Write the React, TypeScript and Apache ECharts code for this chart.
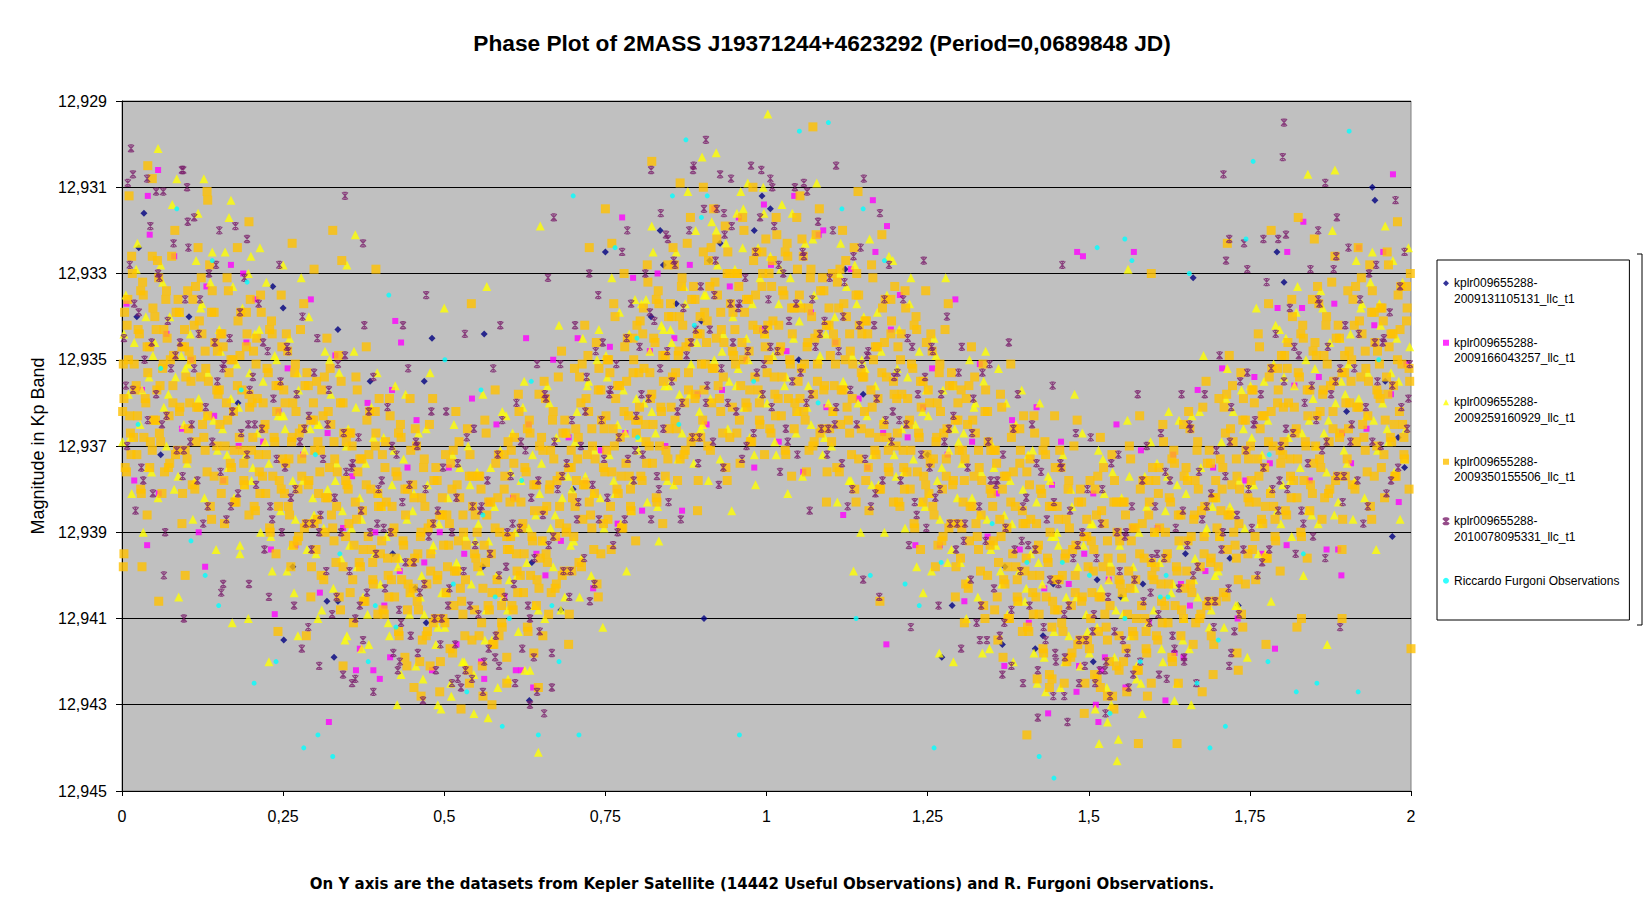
import React, { useEffect, useRef } from 'react';
import * as echarts from 'echarts';

// Point lists are flat pairs: phase in thousandths, magnitude in ten-thousandths above 12.9
// e.g. 352 -> 12,9352

const seriesNames = [
  'kplr009655288-2009131105131_llc_t1',
  'kplr009655288-2009166043257_llc_t1',
  'kplr009655288-2009259160929_llc_t1',
  'kplr009655288-2009350155506_llc_t1',
  'kplr009655288-2010078095331_llc_t1',
  'Riccardo Furgoni Observations',
];

const navyPts = [
  34,316, 26,324, 234,333, 250,338, 104,340, 23,340, 835,320, 750,325, 928,323, 993,312, 1006,315, 981,320,
  912,327, 1122,329, 840,328, 1792,325, 1662,331, 1803,332, 860,337, 335,343, 481,345, 562,344, 821,340, 385,355,
  469,355, 899,341, 265,398, 318,406, 335,406, 251,415, 329,419, 472,411, 632,429, 681,408, 636,397, 455,403,
  1272,419, 1288,407, 1366,416, 1429,414, 1417,417, 1507,420, 1513,401, 1732,407, 1719,396, 1370,398, 1445,402,
  1584,402, 60,372, 180,360, 420,395, 560,398, 700,380, 1050,350, 1150,358, 1250,372, 1550,405, 1650,395,
  1900,362, 1960,355, 1980,368, 1940,310, 1944,313, 903,410, 1971,391, 1990,375,
];

const magentaPts = [
  7,337, 19,378, 31,357, 43,321, 57,381, 69,344, 81,326, 93,366, 107,350, 119,390, 131,333, 143,363,
  157,378, 169,328, 181,370, 193,346, 207,336, 219,369, 231,394, 243,362, 257,352, 269,393, 281,372, 293,336,
  307,404, 319,367, 331,349, 343,389, 357,377, 369,417, 381,360, 393,390, 407,407, 419,357, 431,399, 443,375,
  457,364, 469,397, 481,422, 493,390, 507,375, 519,416, 531,395, 543,359, 557,420, 569,383, 581,365, 593,405,
  607,382, 619,422, 631,365, 643,395, 657,400, 669,350, 681,392, 693,368, 707,345, 719,378, 731,403, 743,371,
  757,347, 769,388, 781,367, 793,331, 807,385, 819,348, 831,330, 843,370, 857,345, 869,385, 881,328, 893,358,
  907,365, 919,315, 931,357, 943,333, 957,317, 969,350, 981,375, 993,343, 1007,328, 1019,369, 1031,348, 1043,312,
  1057,376, 1069,339, 1081,321, 1093,361, 1107,346, 1119,386, 1131,329, 1143,359, 1157,375, 1169,325, 1181,367, 1193,343,
  1207,335, 1219,368, 1231,393, 1243,361, 1257,352, 1269,393, 1281,372, 1293,336, 1307,406, 1319,369, 1331,351, 1343,391,
  1357,381, 1369,421, 1381,364, 1393,394, 1407,411, 1419,361, 1431,403, 1443,379, 1457,369, 1469,402, 1481,427, 1493,395,
  1507,381, 1519,422, 1531,401, 1543,365, 1557,426, 1569,389, 1581,371, 1593,411, 1607,389, 1619,429, 1631,372, 1643,402,
  1657,407, 1669,357, 1681,399, 1693,375, 1707,352, 1719,385, 1731,410, 1743,378, 1757,354, 1769,395, 1781,374, 1793,338,
  1807,393, 1819,356, 1831,338, 1843,378, 1857,354, 1869,394, 1881,337, 1893,367, 1907,374, 1919,324, 1931,366, 1943,342,
  1957,325, 1969,358, 1981,383, 1993,351,
  56,306, 40,312, 188,330, 424,341, 433,346, 627,345, 776,317, 996,314, 1165,313, 1088,320, 1187,319, 1482,325,
  1491,326, 1570,325, 1833,318, 39,393, 129,398, 237,409, 321,434, 363,422, 390,422, 400,424, 416,419, 562,424,
  611,422, 638,426, 1186,416, 1437,432, 1515,434, 1511,430, 1485,421, 1525,419, 1789,417, 1633,418, 1647,419, 1887,394,
  1892,400, 1972,307, 1808,325,
];

const yellowPts = [
  1,369, 6,335, 10,358, 15,381, 19,346, 24,323, 28,365, 33,390, 37,340, 42,354, 46,376,
  51,346, 56,382, 60,328, 65,361, 69,370, 74,340, 78,314, 83,354, 87,377, 92,349, 96,365,
  101,374, 106,344, 110,387, 115,327, 119,359, 124,337, 128,382, 133,353, 137,332, 142,364, 146,394,
  151,343, 156,366, 160,325, 165,375, 169,359, 174,382, 178,351, 183,393, 187,338, 192,372, 196,330,
  201,378, 206,344, 210,367, 215,390, 219,355, 224,332, 228,374, 233,399, 237,349, 242,363, 246,385,
  251,363, 256,399, 260,345, 265,378, 269,387, 274,357, 278,331, 283,371, 287,394, 292,366, 296,382,
  301,395, 306,365, 310,408, 315,348, 319,380, 324,358, 328,403, 333,374, 337,353, 342,385, 346,415,
  351,366, 356,389, 360,348, 365,398, 369,382, 374,405, 378,374, 383,416, 387,361, 392,395, 396,353,
  401,402, 406,368, 410,391, 415,414, 419,379, 424,356, 428,398, 433,423, 437,373, 442,387, 446,409,
  451,385, 456,421, 460,367, 465,400, 469,409, 474,379, 478,353, 483,393, 487,416, 492,388, 496,404,
  501,412, 506,382, 510,425, 515,365, 519,397, 524,375, 528,420, 533,391, 537,370, 542,402, 546,432,
  551,376, 556,399, 560,358, 565,408, 569,392, 574,415, 578,384, 583,426, 587,371, 592,405, 596,363,
  601,401, 606,367, 610,390, 615,413, 619,378, 624,355, 628,397, 633,422, 637,372, 642,386, 646,408,
  651,374, 656,410, 660,356, 665,389, 669,398, 674,368, 678,342, 683,382, 687,405, 692,377, 696,393,
  701,392, 706,362, 710,405, 715,345, 719,377, 724,355, 728,400, 733,371, 737,350, 742,382, 746,412,
  751,349, 756,372, 760,331, 765,381, 769,365, 774,388, 778,357, 783,399, 787,344, 792,378, 796,336,
  801,371, 806,337, 810,360, 815,383, 819,348, 824,325, 828,367, 833,392, 837,342, 842,356, 846,378,
  851,343, 856,379, 860,325, 865,358, 869,367, 874,337, 878,311, 883,351, 887,374, 892,346, 896,362,
  901,365, 906,335, 910,378, 915,318, 919,350, 924,328, 928,373, 933,344, 937,323, 942,355, 946,385,
  951,329, 956,352, 960,311, 965,361, 969,345, 974,368, 978,337, 983,379, 987,324, 992,358, 996,316,
  1001,360, 1006,326, 1010,349, 1015,372, 1019,337, 1024,314, 1028,356, 1033,381, 1037,331, 1042,345, 1046,367,
  1051,341, 1056,377, 1060,323, 1065,356, 1069,365, 1074,335, 1078,309, 1083,349, 1087,372, 1092,344, 1096,360,
  1101,370, 1106,340, 1110,383, 1115,323, 1119,355, 1124,333, 1128,378, 1133,349, 1137,328, 1142,360, 1146,390,
  1151,340, 1156,363, 1160,322, 1165,372, 1169,356, 1174,379, 1178,348, 1183,390, 1187,335, 1192,369, 1196,327,
  1201,377, 1206,343, 1210,366, 1215,389, 1219,354, 1224,331, 1228,373, 1233,398, 1237,348, 1242,362, 1246,384,
  1251,363, 1256,399, 1260,345, 1265,378, 1269,387, 1274,357, 1278,331, 1283,371, 1287,394, 1292,366, 1296,382,
  1301,397, 1306,367, 1310,410, 1315,350, 1319,382, 1324,360, 1328,405, 1333,376, 1337,355, 1342,387, 1346,417,
  1351,370, 1356,393, 1360,352, 1365,402, 1369,386, 1374,409, 1378,378, 1383,420, 1387,365, 1392,399, 1396,357,
  1401,406, 1406,372, 1410,395, 1415,418, 1419,383, 1424,360, 1428,402, 1433,427, 1437,377, 1442,391, 1446,413,
  1451,390, 1456,426, 1460,372, 1465,405, 1469,414, 1474,384, 1478,358, 1483,398, 1487,421, 1492,393, 1496,409,
  1501,418, 1506,388, 1510,431, 1515,371, 1519,403, 1524,381, 1528,426, 1533,397, 1537,376, 1542,408, 1546,438,
  1551,382, 1556,405, 1560,364, 1565,414, 1569,398, 1574,421, 1578,390, 1583,432, 1587,377, 1592,411, 1596,369,
  1601,408, 1606,374, 1610,397, 1615,420, 1619,385, 1624,362, 1628,404, 1633,429, 1637,379, 1642,393, 1646,415,
  1651,381, 1656,417, 1660,363, 1665,396, 1669,405, 1674,375, 1678,349, 1683,389, 1687,412, 1692,384, 1696,400,
  1701,399, 1706,369, 1710,412, 1715,352, 1719,384, 1724,362, 1728,407, 1733,378, 1737,357, 1742,389, 1746,419,
  1751,356, 1756,379, 1760,338, 1765,388, 1769,372, 1774,395, 1778,364, 1783,406, 1787,351, 1792,385, 1796,343,
  1801,379, 1806,345, 1810,368, 1815,391, 1819,356, 1824,333, 1828,375, 1833,400, 1837,350, 1842,364, 1846,386,
  1851,352, 1856,388, 1860,334, 1865,367, 1869,376, 1874,346, 1878,320, 1883,360, 1887,383, 1892,355, 1896,371,
  1901,374, 1906,344, 1910,387, 1915,327, 1919,359, 1924,337, 1928,382, 1933,353, 1937,332, 1942,364, 1946,394,
  1951,337, 1956,360, 1960,319, 1965,369, 1969,353, 1974,376, 1978,345, 1983,387, 1987,332, 1992,366, 1996,324,
  56,301, 85,308, 127,308, 169,313, 166,317, 118,316, 200,326, 250,328, 649,319, 922,302, 900,303, 822,319,
  362,321, 566,333, 349,328, 500,338, 214,324, 1002,293, 971,309, 995,310, 964,315, 954,316, 1840,307, 1882,306,
  1561,329, 88,405, 171,411, 196,410, 228,420, 273,414, 427,430, 490,430, 495,431, 568,433, 646,441, 511,428,
  546,423, 467,424, 599,424, 625,422, 183,395, 267,404, 349,414, 372,417, 304,410, 1268,418, 1290,420, 1335,418,
  1535,430, 1529,434, 1516,439, 1544,443, 1659,430, 1637,425, 1870,416, 1574,424, 1420,425, 1135,399, 1243,404,
];

// more triangles from the dense core of the band
const yellowCorePts = [
  3,344, 13,368, 22,329, 31,357, 40,375, 48,349, 53,364, 63,332, 72,358, 81,380, 90,339, 98,352,
  103,351, 113,378, 122,338, 131,363, 140,325, 148,371, 153,348, 163,372, 172,333, 181,361, 190,379, 198,353,
  203,375, 213,343, 222,369, 231,391, 240,350, 248,363, 253,366, 263,393, 272,353, 281,378, 290,340, 298,386,
  303,365, 313,389, 322,350, 331,378, 340,396, 348,370, 353,393, 363,361, 372,387, 381,409, 390,368, 398,381,
  403,384, 413,411, 422,371, 431,396, 440,358, 448,404, 453,381, 463,405, 472,366, 481,394, 490,412, 498,386,
  503,404, 513,372, 522,398, 531,420, 540,379, 548,392, 553,388, 563,415, 572,375, 581,400, 590,362, 598,408,
  603,376, 613,400, 622,361, 631,389, 640,407, 648,381, 653,392, 663,360, 672,386, 681,408, 690,367, 698,380,
  703,369, 713,396, 722,356, 731,381, 740,343, 748,389, 753,354, 763,378, 772,339, 781,367, 790,385, 798,359,
  803,368, 813,336, 822,362, 831,384, 840,343, 848,356, 853,346, 863,373, 872,333, 881,358, 890,320, 898,366,
  903,335, 913,359, 922,320, 931,348, 940,366, 948,340, 953,356, 963,324, 972,350, 981,372, 990,331, 998,344,
  1003,342, 1013,369, 1022,329, 1031,354, 1040,316, 1048,362, 1053,337, 1063,361, 1072,322, 1081,350, 1090,368, 1098,342,
  1103,362, 1113,330, 1122,356, 1131,378, 1140,337, 1148,350, 1153,352, 1163,379, 1172,339, 1181,364, 1190,326, 1198,372,
  1203,352, 1213,376, 1222,337, 1231,365, 1240,383, 1248,357, 1253,381, 1263,349, 1272,375, 1281,397, 1290,356, 1298,369,
  1303,374, 1313,401, 1322,361, 1331,386, 1340,348, 1348,394, 1353,375, 1363,399, 1372,360, 1381,388, 1390,406, 1398,380,
  1403,403, 1413,371, 1422,397, 1431,419, 1440,378, 1448,391, 1453,393, 1463,420, 1472,380, 1481,405, 1490,367, 1498,413,
  1503,388, 1513,412, 1522,373, 1531,401, 1540,419, 1548,393, 1553,409, 1563,377, 1572,403, 1581,425, 1590,384, 1598,397,
  1603,390, 1613,417, 1622,377, 1631,402, 1640,364, 1648,410, 1653,377, 1663,401, 1672,362, 1681,390, 1690,408, 1698,382,
  1703,391, 1713,359, 1722,385, 1731,407, 1740,366, 1748,379, 1753,368, 1763,395, 1772,355, 1781,380, 1790,342, 1798,388,
  1803,354, 1813,378, 1822,339, 1831,367, 1840,385, 1848,359, 1853,370, 1863,338, 1872,364, 1881,386, 1890,345, 1898,358,
  1903,351, 1913,378, 1922,338, 1931,363, 1940,325, 1948,371, 1953,342, 1963,366, 1972,327, 1981,355, 1990,373, 1998,347,
];

const orangePts = [
  2,351, 5,375, 9,336, 12,363, 15,326, 18,368, 22,356, 25,343, 29,380, 32,332, 36,359, 39,386, 43,347, 47,371,
  52,364, 55,327, 59,356, 62,381, 65,343, 68,336, 72,375, 75,350, 79,360, 82,320, 86,371, 89,339, 93,388, 97,347,
  102,334, 105,360, 109,379, 112,342, 115,369, 118,324, 122,354, 125,365, 129,348, 132,376, 136,328, 139,387, 143,339, 147,357,
  152,365, 155,344, 159,388, 162,360, 165,334, 168,374, 172,350, 175,383, 179,324, 182,368, 186,357, 189,378, 193,339, 197,386,
  202,360, 205,384, 209,345, 212,372, 215,335, 218,377, 222,365, 225,352, 229,389, 232,341, 236,368, 239,395, 243,356, 247,380,
  252,381, 255,344, 259,373, 262,398, 265,360, 268,353, 272,392, 275,367, 279,377, 282,337, 286,388, 289,356, 293,405, 297,364,
  302,355, 305,381, 309,400, 312,363, 315,390, 318,345, 322,375, 325,386, 329,369, 332,397, 336,349, 339,408, 343,360, 347,378,
  352,388, 355,367, 359,411, 362,383, 365,357, 368,397, 372,373, 375,406, 379,347, 382,391, 386,380, 389,401, 393,362, 397,409,
  402,384, 405,408, 409,369, 412,396, 415,359, 418,401, 422,389, 425,376, 429,413, 432,365, 436,392, 439,419, 443,380, 447,404,
  452,403, 455,366, 459,395, 462,420, 465,382, 468,375, 472,414, 475,389, 479,399, 482,359, 486,410, 489,378, 493,427, 497,386,
  502,372, 505,398, 509,417, 512,380, 515,407, 518,362, 522,392, 525,403, 529,386, 532,414, 536,366, 539,425, 543,377, 547,395,
  552,398, 555,377, 559,421, 562,393, 565,367, 568,407, 572,383, 575,416, 579,357, 582,401, 586,390, 589,411, 593,372, 597,419,
  602,383, 605,407, 609,368, 612,395, 615,358, 618,400, 622,388, 625,375, 629,412, 632,364, 636,391, 639,418, 643,379, 647,403,
  652,392, 655,355, 659,384, 662,409, 665,371, 668,364, 672,403, 675,378, 679,388, 682,348, 686,399, 689,367, 693,416, 697,375,
  702,352, 705,378, 709,397, 712,360, 715,387, 718,342, 722,372, 725,383, 729,366, 732,394, 736,346, 739,405, 743,357, 747,375,
  752,371, 755,350, 759,394, 762,366, 765,340, 768,380, 772,356, 775,389, 779,330, 782,374, 786,363, 789,384, 793,345, 797,392,
  802,353, 805,377, 809,338, 812,365, 815,328, 818,370, 822,358, 825,345, 829,382, 832,334, 836,361, 839,388, 843,349, 847,373,
  852,361, 855,324, 859,353, 862,378, 865,340, 868,333, 872,372, 875,347, 879,357, 882,317, 886,368, 889,336, 893,385, 897,344,
  902,325, 905,351, 909,370, 912,333, 915,360, 918,315, 922,345, 925,356, 929,339, 932,367, 936,319, 939,378, 943,330, 947,348,
  952,351, 955,330, 959,374, 962,346, 965,320, 968,360, 972,336, 975,369, 979,310, 982,354, 986,343, 989,364, 993,325, 997,372,
  1002,342, 1005,366, 1009,327, 1012,354, 1015,317, 1018,359, 1022,347, 1025,334, 1029,371, 1032,323, 1036,350, 1039,377, 1043,338, 1047,362,
  1052,359, 1055,322, 1059,351, 1062,376, 1065,338, 1068,331, 1072,370, 1075,345, 1079,355, 1082,315, 1086,366, 1089,334, 1093,383, 1097,342,
  1102,330, 1105,356, 1109,375, 1112,338, 1115,365, 1118,320, 1122,350, 1125,361, 1129,344, 1132,372, 1136,324, 1139,383, 1143,335, 1147,353,
  1152,362, 1155,341, 1159,385, 1162,357, 1165,331, 1168,371, 1172,347, 1175,380, 1179,321, 1182,365, 1186,354, 1189,375, 1193,336, 1197,383,
  1202,359, 1205,383, 1209,344, 1212,371, 1215,334, 1218,376, 1222,364, 1225,351, 1229,388, 1232,340, 1236,367, 1239,394, 1243,355, 1247,379,
  1252,381, 1255,344, 1259,373, 1262,398, 1265,360, 1268,353, 1272,392, 1275,367, 1279,377, 1282,337, 1286,388, 1289,356, 1293,405, 1297,364,
  1302,357, 1305,383, 1309,402, 1312,365, 1315,392, 1318,347, 1322,377, 1325,388, 1329,371, 1332,399, 1336,351, 1339,410, 1343,362, 1347,380,
  1352,392, 1355,371, 1359,415, 1362,387, 1365,361, 1368,401, 1372,377, 1375,410, 1379,351, 1382,395, 1386,384, 1389,405, 1393,366, 1397,413,
  1402,388, 1405,412, 1409,373, 1412,400, 1415,363, 1418,405, 1422,393, 1425,380, 1429,417, 1432,369, 1436,396, 1439,423, 1443,384, 1447,408,
  1452,408, 1455,371, 1459,400, 1462,425, 1465,387, 1468,380, 1472,419, 1475,394, 1479,404, 1482,364, 1486,415, 1489,383, 1493,432, 1497,391,
  1502,378, 1505,404, 1509,423, 1512,386, 1515,413, 1518,368, 1522,398, 1525,409, 1529,392, 1532,420, 1536,372, 1539,431, 1543,383, 1547,401,
  1552,404, 1555,383, 1559,427, 1562,399, 1565,373, 1568,413, 1572,389, 1575,422, 1579,363, 1582,407, 1586,396, 1589,417, 1593,378, 1597,425,
  1602,390, 1605,414, 1609,375, 1612,402, 1615,365, 1618,407, 1622,395, 1625,382, 1629,419, 1632,371, 1636,398, 1639,425, 1643,386, 1647,410,
  1652,399, 1655,362, 1659,391, 1662,416, 1665,378, 1668,371, 1672,410, 1675,385, 1679,395, 1682,355, 1686,406, 1689,374, 1693,423, 1697,382,
  1702,359, 1705,385, 1709,404, 1712,367, 1715,394, 1718,349, 1722,379, 1725,390, 1729,373, 1732,401, 1736,353, 1739,412, 1743,364, 1747,382,
  1752,378, 1755,357, 1759,401, 1762,373, 1765,347, 1768,387, 1772,363, 1775,396, 1779,337, 1782,381, 1786,370, 1789,391, 1793,352, 1797,399,
  1802,361, 1805,385, 1809,346, 1812,373, 1815,336, 1818,378, 1822,366, 1825,353, 1829,390, 1832,342, 1836,369, 1839,396, 1843,357, 1847,381,
  1852,370, 1855,333, 1859,362, 1862,387, 1865,349, 1868,342, 1872,381, 1875,356, 1879,366, 1882,326, 1886,377, 1889,345, 1893,394, 1897,353,
  1902,334, 1905,360, 1909,379, 1912,342, 1915,369, 1918,324, 1922,354, 1925,365, 1929,348, 1932,376, 1936,328, 1939,387, 1943,339, 1947,357,
  1952,359, 1955,338, 1959,382, 1962,354, 1965,328, 1968,368, 1972,344, 1975,377, 1979,318, 1982,362, 1986,351, 1989,372, 1993,333, 1997,380,
  40,305, 47,308, 132,311, 133,313, 197,318, 11,312, 264,323, 822,304, 1072,296, 866,309, 902,310, 1142,311,
  1052,312, 750,315, 760,323, 1825,317, 1783,320, 1715,323, 1597,330, 1850,322, 327,320, 298,329, 394,329, 725,324,
  542,337, 341,327, 3,395, 2,398, 31,398, 57,406, 98,400, 242,413, 286,414, 343,421, 453,426, 464,428, 526,431,
  574,430, 560,428, 597,425, 646,426, 478,421, 442,421, 653,414, 585,414, 1404,437, 1577,439, 1637,439, 1591,428,
  1676,427, 1443,424, 1439,426, 1529,428, 1518,426, 1420,424, 1732,422, 1775,416, 1823,412, 1893,410, 1830,410,
  1547,422, 1367,419, 1307,411, 1176,406, 1690,414, 1730,418, 2000,417,
];

// more squares from the dense core of the band
const orangeCorePts = [
  1,362, 4,339, 7,376, 10,350, 13,367, 16,330, 20,357, 23,372, 27,344, 30,381, 33,335, 37,360, 40,353, 44,369, 47,326, 49,364,
  51,340, 54,357, 57,331, 60,369, 63,352, 66,376, 70,345, 73,363, 77,326, 80,349, 83,372, 87,336, 90,361, 94,381, 97,343, 99,354,
  101,373, 104,348, 107,355, 110,336, 113,380, 116,361, 120,341, 123,331, 127,368, 130,352, 133,363, 137,384, 140,334, 144,346, 147,370, 149,358,
  151,357, 154,381, 157,347, 160,370, 163,331, 166,353, 170,375, 173,362, 177,383, 180,341, 183,349, 187,371, 190,379, 194,344, 197,358, 199,336,
  201,371, 204,348, 207,385, 210,359, 213,376, 216,339, 220,366, 223,381, 227,353, 230,390, 233,344, 237,369, 240,362, 244,378, 247,335, 249,373,
  251,357, 254,374, 257,348, 260,386, 263,369, 266,393, 270,362, 273,380, 277,343, 280,366, 283,389, 287,353, 290,378, 294,398, 297,360, 299,371,
  301,394, 304,369, 307,376, 310,357, 313,401, 316,382, 320,362, 323,352, 327,389, 330,373, 333,384, 337,405, 340,355, 344,367, 347,391, 349,379,
  351,380, 354,404, 357,370, 360,393, 363,354, 366,376, 370,398, 373,385, 377,406, 380,364, 383,372, 387,394, 390,402, 394,367, 397,381, 399,359,
  401,395, 404,372, 407,409, 410,383, 413,400, 416,363, 420,390, 423,405, 427,377, 430,414, 433,368, 437,393, 440,386, 444,402, 447,359, 449,397,
  451,379, 454,396, 457,370, 460,408, 463,391, 466,415, 470,384, 473,402, 477,365, 480,388, 483,411, 487,375, 490,400, 494,420, 497,382, 499,393,
  501,411, 504,386, 507,393, 510,374, 513,418, 516,399, 520,379, 523,369, 527,406, 530,390, 533,401, 537,422, 540,372, 544,384, 547,408, 549,396,
  551,390, 554,414, 557,380, 560,403, 563,364, 566,386, 570,408, 573,395, 577,416, 580,374, 583,382, 587,404, 590,412, 594,377, 597,391, 599,369,
  601,394, 604,371, 607,408, 610,382, 613,399, 616,362, 620,389, 623,404, 627,376, 630,413, 633,367, 637,392, 640,385, 644,401, 647,358, 649,396,
  651,368, 654,385, 657,359, 660,397, 663,380, 666,404, 670,373, 673,391, 677,354, 680,377, 683,400, 687,364, 690,389, 694,409, 697,371, 699,382,
  701,391, 704,366, 707,373, 710,354, 713,398, 716,379, 720,359, 723,349, 727,386, 730,370, 733,381, 737,402, 740,352, 744,364, 747,388, 749,376,
  751,363, 754,387, 757,353, 760,376, 763,337, 766,359, 770,381, 773,368, 777,389, 780,347, 783,355, 787,377, 790,385, 794,350, 797,364, 799,342,
  801,364, 804,341, 807,378, 810,352, 813,369, 816,332, 820,359, 823,374, 827,346, 830,383, 833,337, 837,362, 840,355, 844,371, 847,328, 849,366,
  851,337, 854,354, 857,328, 860,366, 863,349, 866,373, 870,342, 873,360, 877,323, 880,346, 883,369, 887,333, 890,358, 894,378, 897,340, 899,351,
  901,364, 904,339, 907,346, 910,327, 913,371, 916,352, 920,332, 923,322, 927,359, 930,343, 933,354, 937,375, 940,325, 944,337, 947,361, 949,349,
  951,343, 954,367, 957,333, 960,356, 963,317, 966,339, 970,361, 973,348, 977,369, 980,327, 983,335, 987,357, 990,365, 994,330, 997,344, 999,322,
  1001,353, 1004,330, 1007,367, 1010,341, 1013,358, 1016,321, 1020,348, 1023,363, 1027,335, 1030,372, 1033,326, 1037,351, 1040,344, 1044,360, 1047,317, 1049,355,
  1051,335, 1054,352, 1057,326, 1060,364, 1063,347, 1066,371, 1070,340, 1073,358, 1077,321, 1080,344, 1083,367, 1087,331, 1090,356, 1094,376, 1097,338, 1099,349,
  1101,369, 1104,344, 1107,351, 1110,332, 1113,376, 1116,357, 1120,337, 1123,327, 1127,364, 1130,348, 1133,359, 1137,380, 1140,330, 1144,342, 1147,366, 1149,354,
  1151,354, 1154,378, 1157,344, 1160,367, 1163,328, 1166,350, 1170,372, 1173,359, 1177,380, 1180,338, 1183,346, 1187,368, 1190,376, 1194,341, 1197,355, 1199,333,
  1201,370, 1204,347, 1207,384, 1210,358, 1213,375, 1216,338, 1220,365, 1223,380, 1227,352, 1230,389, 1233,343, 1237,368, 1240,361, 1244,377, 1247,334, 1249,372,
  1251,357, 1254,374, 1257,348, 1260,386, 1263,369, 1266,393, 1270,362, 1273,380, 1277,343, 1280,366, 1283,389, 1287,353, 1290,378, 1294,398, 1297,360, 1299,371,
  1301,396, 1304,371, 1307,378, 1310,359, 1313,403, 1316,384, 1320,364, 1323,354, 1327,391, 1330,375, 1333,386, 1337,407, 1340,357, 1344,369, 1347,393, 1349,381,
  1351,384, 1354,408, 1357,374, 1360,397, 1363,358, 1366,380, 1370,402, 1373,389, 1377,410, 1380,368, 1383,376, 1387,398, 1390,406, 1394,371, 1397,385, 1399,363,
  1401,399, 1404,376, 1407,413, 1410,387, 1413,404, 1416,367, 1420,394, 1423,409, 1427,381, 1430,418, 1433,372, 1437,397, 1440,390, 1444,406, 1447,363, 1449,401,
  1451,384, 1454,401, 1457,375, 1460,413, 1463,396, 1466,420, 1470,389, 1473,407, 1477,370, 1480,393, 1483,416, 1487,380, 1490,405, 1494,425, 1497,387, 1499,398,
  1501,417, 1504,392, 1507,399, 1510,380, 1513,424, 1516,405, 1520,385, 1523,375, 1527,412, 1530,396, 1533,407, 1537,428, 1540,378, 1544,390, 1547,414, 1549,402,
  1551,396, 1554,420, 1557,386, 1560,409, 1563,370, 1566,392, 1570,414, 1573,401, 1577,422, 1580,380, 1583,388, 1587,410, 1590,418, 1594,383, 1597,397, 1599,375,
  1601,401, 1604,378, 1607,415, 1610,389, 1613,406, 1616,369, 1620,396, 1623,411, 1627,383, 1630,420, 1633,374, 1637,399, 1640,392, 1644,408, 1647,365, 1649,403,
  1651,375, 1654,392, 1657,366, 1660,404, 1663,387, 1666,411, 1670,380, 1673,398, 1677,361, 1680,384, 1683,407, 1687,371, 1690,396, 1694,416, 1697,378, 1699,389,
  1701,398, 1704,373, 1707,380, 1710,361, 1713,405, 1716,386, 1720,366, 1723,356, 1727,393, 1730,377, 1733,388, 1737,409, 1740,359, 1744,371, 1747,395, 1749,383,
  1751,370, 1754,394, 1757,360, 1760,383, 1763,344, 1766,366, 1770,388, 1773,375, 1777,396, 1780,354, 1783,362, 1787,384, 1790,392, 1794,357, 1797,371, 1799,349,
  1801,372, 1804,349, 1807,386, 1810,360, 1813,377, 1816,340, 1820,367, 1823,382, 1827,354, 1830,391, 1833,345, 1837,370, 1840,363, 1844,379, 1847,336, 1849,374,
  1851,346, 1854,363, 1857,337, 1860,375, 1863,358, 1866,382, 1870,351, 1873,369, 1877,332, 1880,355, 1883,378, 1887,342, 1890,367, 1894,387, 1897,349, 1899,360,
  1901,373, 1904,348, 1907,355, 1910,336, 1913,380, 1916,361, 1920,341, 1923,331, 1927,368, 1930,352, 1933,363, 1937,384, 1940,334, 1944,346, 1947,370, 1949,358,
  1951,351, 1954,375, 1957,341, 1960,364, 1963,325, 1966,347, 1970,369, 1973,356, 1977,377, 1980,335, 1983,343, 1987,365, 1990,373, 1994,338, 1997,352, 1999,330,
];

// the tightest part of the band, where the squares overlap into a solid strip
const orangeDensePts = [
  3,359, 8,342, 14,372, 19,351, 24,363, 29,334, 34,368, 39,347, 43,375, 48,338,
  53,343, 58,367, 64,351, 69,334, 74,374, 79,356, 84,339, 89,362, 93,347, 98,371,
  103,366, 108,350, 114,333, 119,361, 124,344, 129,371, 134,355, 139,339, 143,377, 148,348,
  153,344, 158,378, 164,364, 169,350, 174,371, 179,356, 184,339, 189,374, 193,347, 198,361,
  203,368, 208,351, 214,381, 219,360, 224,372, 229,343, 234,377, 239,356, 243,384, 248,347,
  253,360, 258,384, 264,368, 269,351, 274,391, 279,373, 284,356, 289,379, 293,364, 298,388,
  303,387, 308,371, 314,354, 319,382, 324,365, 329,392, 334,376, 339,360, 343,398, 348,369,
  353,367, 358,401, 364,387, 369,373, 374,394, 379,379, 384,362, 389,397, 393,370, 398,384,
  403,392, 408,375, 414,405, 419,384, 424,396, 429,367, 434,401, 439,380, 443,408, 448,371,
  453,382, 458,406, 464,390, 469,373, 474,413, 479,395, 484,378, 489,401, 493,386, 498,410,
  503,404, 508,388, 514,371, 519,399, 524,382, 529,409, 534,393, 539,377, 543,415, 548,386,
  553,377, 558,411, 564,397, 569,383, 574,404, 579,389, 584,372, 589,407, 593,380, 598,394,
  603,391, 608,374, 614,404, 619,383, 624,395, 629,366, 634,400, 639,379, 643,407, 648,370,
  653,371, 658,395, 664,379, 669,362, 674,402, 679,384, 684,367, 689,390, 693,375, 698,399,
  703,384, 708,368, 714,351, 719,379, 724,362, 729,389, 734,373, 739,357, 743,395, 748,366,
  753,350, 758,384, 764,370, 769,356, 774,377, 779,362, 784,345, 789,380, 793,353, 798,367,
  803,361, 808,344, 814,374, 819,353, 824,365, 829,336, 834,370, 839,349, 843,377, 848,340,
  853,340, 858,364, 864,348, 869,331, 874,371, 879,353, 884,336, 889,359, 893,344, 898,368,
  903,357, 908,341, 914,324, 919,352, 924,335, 929,362, 934,346, 939,330, 943,368, 948,339,
  953,330, 958,364, 964,350, 969,336, 974,357, 979,342, 984,325, 989,360, 993,333, 998,347,
  1003,350, 1008,333, 1014,363, 1019,342, 1024,354, 1029,325, 1034,359, 1039,338, 1043,366, 1048,329,
  1053,338, 1058,362, 1064,346, 1069,329, 1074,369, 1079,351, 1084,334, 1089,357, 1093,342, 1098,366,
  1103,362, 1108,346, 1114,329, 1119,357, 1124,340, 1129,367, 1134,351, 1139,335, 1143,373, 1148,344,
  1153,341, 1158,375, 1164,361, 1169,347, 1174,368, 1179,353, 1184,336, 1189,371, 1193,344, 1198,358,
  1203,367, 1208,350, 1214,380, 1219,359, 1224,371, 1229,342, 1234,376, 1239,355, 1243,383, 1248,346,
  1253,360, 1258,384, 1264,368, 1269,351, 1274,391, 1279,373, 1284,356, 1289,379, 1293,364, 1298,388,
  1303,389, 1308,373, 1314,356, 1319,384, 1324,367, 1329,394, 1334,378, 1339,362, 1343,400, 1348,371,
  1353,371, 1358,405, 1364,391, 1369,377, 1374,398, 1379,383, 1384,366, 1389,401, 1393,374, 1398,388,
  1403,396, 1408,379, 1414,409, 1419,388, 1424,400, 1429,371, 1434,405, 1439,384, 1443,412, 1448,375,
  1453,387, 1458,411, 1464,395, 1469,378, 1474,418, 1479,400, 1484,383, 1489,406, 1493,391, 1498,415,
  1503,410, 1508,394, 1514,377, 1519,405, 1524,388, 1529,415, 1534,399, 1539,383, 1543,421, 1548,392,
  1553,383, 1558,417, 1564,403, 1569,389, 1574,410, 1579,395, 1584,378, 1589,413, 1593,386, 1598,400,
  1603,398, 1608,381, 1614,411, 1619,390, 1624,402, 1629,373, 1634,407, 1639,386, 1643,414, 1648,377,
  1653,378, 1658,402, 1664,386, 1669,369, 1674,409, 1679,391, 1684,374, 1689,397, 1693,382, 1698,406,
  1703,391, 1708,375, 1714,358, 1719,386, 1724,369, 1729,396, 1734,380, 1739,364, 1743,402, 1748,373,
  1753,357, 1758,391, 1764,377, 1769,363, 1774,384, 1779,369, 1784,352, 1789,387, 1793,360, 1798,374,
  1803,369, 1808,352, 1814,382, 1819,361, 1824,373, 1829,344, 1834,378, 1839,357, 1843,385, 1848,348,
  1853,349, 1858,373, 1864,357, 1869,340, 1874,380, 1879,362, 1884,345, 1889,368, 1893,353, 1898,377,
  1903,366, 1908,350, 1914,333, 1919,361, 1924,344, 1929,371, 1934,355, 1939,339, 1943,377, 1948,348,
  1953,338, 1958,372, 1964,358, 1969,344, 1974,365, 1979,350, 1984,333, 1989,368, 1993,341, 1998,355,
];

const purplePts = [
  3,345, 8,370, 12,328, 17,357, 21,385, 26,339, 30,375, 35,350, 40,364, 44,319, 48,381,
  53,358, 58,331, 62,365, 67,390, 71,341, 76,352, 80,323, 85,371, 90,346, 94,377, 98,336,
  103,324, 108,365, 112,352, 117,378, 121,336, 126,388, 130,361, 135,330, 140,369, 144,346, 148,355,
  153,376, 158,351, 162,387, 167,345, 171,362, 176,319, 180,381, 185,367, 190,331, 194,372, 198,357,
  203,354, 208,379, 212,337, 217,366, 221,394, 226,348, 230,384, 235,359, 240,373, 244,328, 248,390,
  253,375, 258,348, 262,382, 267,407, 271,358, 276,369, 280,340, 285,388, 290,363, 294,394, 298,353,
  303,345, 308,386, 312,373, 317,399, 321,357, 326,409, 330,382, 335,351, 340,390, 344,367, 348,376,
  353,399, 358,374, 362,410, 367,368, 371,385, 376,342, 380,404, 385,390, 390,354, 394,395, 398,380,
  403,378, 408,403, 412,361, 417,390, 421,418, 426,372, 430,408, 435,383, 440,397, 444,352, 448,414,
  453,397, 458,370, 462,404, 467,429, 471,380, 476,391, 480,362, 485,410, 490,385, 494,416, 498,375,
  503,362, 508,403, 512,390, 517,416, 521,374, 526,426, 530,399, 535,368, 540,407, 544,384, 548,393,
  553,409, 558,384, 562,420, 567,378, 571,395, 576,352, 580,414, 585,400, 590,364, 594,405, 598,390,
  603,377, 608,402, 612,360, 617,389, 621,417, 626,371, 630,407, 635,382, 640,396, 644,351, 648,413,
  653,386, 658,359, 662,393, 667,418, 671,369, 676,380, 680,351, 685,399, 690,374, 694,405, 698,364,
  703,342, 708,383, 712,370, 717,396, 721,354, 726,406, 730,379, 735,348, 740,387, 744,364, 748,373,
  753,382, 758,357, 762,393, 767,351, 771,368, 776,325, 780,387, 785,373, 790,337, 794,378, 798,363,
  803,347, 808,372, 812,330, 817,359, 821,387, 826,341, 830,377, 835,352, 840,366, 844,321, 848,383,
  853,355, 858,328, 862,362, 867,387, 871,338, 876,349, 880,320, 885,368, 890,343, 894,374, 898,333,
  903,315, 908,356, 912,343, 917,369, 921,327, 926,379, 930,352, 935,321, 940,360, 944,337, 948,346,
  953,362, 958,337, 962,373, 967,331, 971,348, 976,305, 980,367, 985,353, 990,317, 994,358, 998,343,
  1003,336, 1008,361, 1012,319, 1017,348, 1021,376, 1026,330, 1030,366, 1035,341, 1040,355, 1044,310, 1048,372,
  1053,353, 1058,326, 1062,360, 1067,385, 1071,336, 1076,347, 1080,318, 1085,366, 1090,341, 1094,372, 1098,331,
  1103,320, 1108,361, 1112,348, 1117,374, 1121,332, 1126,384, 1130,357, 1135,326, 1140,365, 1144,342, 1148,351,
  1153,373, 1158,348, 1162,384, 1167,342, 1171,359, 1176,316, 1180,378, 1185,364, 1190,328, 1194,369, 1198,354,
  1203,353, 1208,378, 1212,336, 1217,365, 1221,393, 1226,347, 1230,383, 1235,358, 1240,372, 1244,327, 1248,389,
  1253,375, 1258,348, 1262,382, 1267,407, 1271,358, 1276,369, 1280,340, 1285,388, 1290,363, 1294,394, 1298,353,
  1303,347, 1308,388, 1312,375, 1317,401, 1321,359, 1326,411, 1330,384, 1335,353, 1340,392, 1344,369, 1348,378,
  1353,403, 1358,378, 1362,414, 1367,372, 1371,389, 1376,346, 1380,408, 1385,394, 1390,358, 1394,399, 1398,384,
  1403,382, 1408,407, 1412,365, 1417,394, 1421,422, 1426,376, 1430,412, 1435,387, 1440,401, 1444,356, 1448,418,
  1453,402, 1458,375, 1462,409, 1467,434, 1471,385, 1476,396, 1480,367, 1485,415, 1490,390, 1494,421, 1498,380,
  1503,368, 1508,409, 1512,396, 1517,422, 1521,380, 1526,432, 1530,405, 1535,374, 1540,413, 1544,390, 1548,399,
  1553,415, 1558,390, 1562,426, 1567,384, 1571,401, 1576,358, 1580,420, 1585,406, 1590,370, 1594,411, 1598,396,
  1603,384, 1608,409, 1612,367, 1617,396, 1621,424, 1626,378, 1630,414, 1635,389, 1640,403, 1644,358, 1648,420,
  1653,393, 1658,366, 1662,400, 1667,425, 1671,376, 1676,387, 1680,358, 1685,406, 1690,381, 1694,412, 1698,371,
  1703,349, 1708,390, 1712,377, 1717,403, 1721,361, 1726,413, 1730,386, 1735,355, 1740,394, 1744,371, 1748,380,
  1753,389, 1758,364, 1762,400, 1767,358, 1771,375, 1776,332, 1780,394, 1785,380, 1790,344, 1794,385, 1798,370,
  1803,355, 1808,380, 1812,338, 1817,367, 1821,395, 1826,349, 1830,385, 1835,360, 1840,374, 1844,329, 1848,391,
  1853,364, 1858,337, 1862,371, 1867,396, 1871,347, 1876,358, 1880,329, 1885,377, 1890,352, 1894,383, 1898,342,
  1903,324, 1908,365, 1912,352, 1917,378, 1921,336, 1926,388, 1930,361, 1935,330, 1940,369, 1944,346, 1948,355,
  1953,370, 1958,345, 1962,381, 1967,339, 1971,356, 1976,313, 1980,375, 1985,361, 1990,325, 1994,366, 1998,351,
  14,301, 17,307, 95,306, 101,310, 39,308, 64,311, 53,311, 194,322, 151,320, 112,317, 102,318, 9,309,
  93,306, 346,312, 374,323, 661,331, 670,317, 821,306, 886,306, 906,299, 928,307, 945,308, 836,316, 784,320,
  725,330, 739,335, 472,335, 587,342, 532,344, 436,342, 887,305, 992,306, 1006,308, 1009,310, 1058,309, 1063,311,
  1108,305, 1151,308, 923,315, 934,316, 847,322, 1803,295, 1801,303, 1709,307, 1867,309, 1885,317, 1856,320,
  1459,328, 1718,322, 1741,323, 1771,322, 1794,322, 1806,321, 1713,327, 1746,329, 1884,326,
  65,400, 96,410, 157,402, 154,404, 197,402, 228,405, 279,417, 289,412, 306,421, 343,423, 357,425, 362,424,
  390,427, 428,422, 431,420, 374,415, 512,425, 521,424, 543,424, 560,427, 579,419, 585,421, 610,425, 633,430,
  644,427, 655,432, 667,426, 639,419, 487,422, 459,418, 1150,401, 1175,405, 1224,412, 1302,417, 1331,415,
  1342,415, 1366,423, 1380,421, 1398,425, 1421,433, 1445,428, 1462,428, 1485,425, 1510,425, 1525,422, 1527,420,
  1449,420, 1463,419, 1718,421, 1721,418, 1609,423, 1648,419, 1560,418, 1890,412,
];

// more stars from the dense core of the band
const purpleCorePts = [
  6,356, 19,337, 33,378, 46,346, 56,330, 69,363, 83,349, 96,371, 106,369, 119,344, 133,384, 146,328,
  156,352, 169,384, 183,339, 196,365, 206,365, 219,346, 233,387, 246,355, 256,347, 269,380, 283,366, 296,388,
  306,390, 319,365, 333,405, 346,349, 356,375, 369,407, 383,362, 396,388, 406,389, 419,370, 433,411, 446,379,
  456,369, 469,402, 483,388, 496,410, 506,407, 519,382, 533,422, 546,366, 556,385, 569,417, 583,372, 596,398,
  606,388, 619,369, 633,410, 646,378, 656,358, 669,391, 683,377, 696,399, 706,387, 719,362, 733,402, 746,346,
  756,358, 769,390, 783,345, 796,371, 806,358, 819,339, 833,380, 846,348, 856,327, 869,360, 883,346, 896,368,
  906,360, 919,335, 933,375, 946,319, 956,338, 969,370, 983,325, 996,351, 1006,347, 1019,328, 1033,369, 1046,337,
  1056,325, 1069,358, 1083,344, 1096,366, 1106,365, 1119,340, 1133,380, 1146,324, 1156,349, 1169,381, 1183,336, 1196,362,
  1206,364, 1219,345, 1233,386, 1246,354, 1256,347, 1269,380, 1283,366, 1296,388, 1306,392, 1319,367, 1333,407, 1346,351,
  1356,379, 1369,411, 1383,366, 1396,392, 1406,393, 1419,374, 1433,415, 1446,383, 1456,374, 1469,407, 1483,393, 1496,415,
  1506,413, 1519,388, 1533,428, 1546,372, 1556,391, 1569,423, 1583,378, 1596,404, 1606,395, 1619,376, 1633,417, 1646,385,
  1656,365, 1669,398, 1683,384, 1696,406, 1706,394, 1719,369, 1733,409, 1746,353, 1756,365, 1769,397, 1783,352, 1796,378,
  1806,366, 1819,347, 1833,388, 1846,356, 1856,336, 1869,369, 1883,355, 1896,377, 1906,369, 1919,344, 1933,384, 1946,328,
  1956,346, 1969,378, 1983,333, 1996,359,
];

const cyanPts = [
  85,315, 140,327, 194,332, 875,299, 1051,297, 1096,295, 854,312, 908,312, 899,317, 1117,315, 1150,315, 765,324,
  1183,327, 1755,304, 1904,297, 1513,324, 1556,322, 1567,327, 1656,330, 1744,322, 700,312, 414,335, 501,350,
  799,345, 888,342, 635,355, 557,357, 185,357, 864,365, 107,392, 129,400, 150,407, 239,420, 205,425, 282,440,
  304,437, 327,442, 338,395, 393,407, 425,412, 382,420, 514,402, 579,405, 601,410, 535,427, 590,435, 646,437,
  667,407, 678,420, 1161,400, 1215,402, 1237,407, 1139,410, 1271,397, 1404,397, 1459,397, 1501,400, 1611,405,
  1623,405, 1556,410, 1580,420, 1701,415, 1778,420, 1833,395, 1668,425, 1854,425, 1822,427, 1533,432, 1712,435,
  1688,440, 1260,440, 1423,442, 1446,447, 709,437, 958,437, 1918,427, 25,365, 60,352, 300,372, 560,386, 620,378,
  800,368, 980,355, 1080,360, 1350,388, 1620,400, 1780,372, 1950,350,
];

const yTicks = { min: 12.929, max: 12.945, step: 0.002 };
const xTicks = { min: 0, max: 2, step: 0.25 };

const toPairs = (flat: number[]) => {
  const out: number[][] = [];
  for (let i = 0; i < flat.length; i += 2) {
    out.push([flat[i] / 1000, 12.9 + flat[i + 1] / 10000]);
  }
  return out;
};

// Excel "star" marker: an x with short bars top and bottom
const starSymbol = 'path://M0,0L10,10M10,0L0,10M2,0L8,0M2,10L8,10M5,0L5,10';

const FONT = "'Liberation Sans', Arial, sans-serif";

const App: React.FC = () => {
  const chartRef = useRef<HTMLDivElement>(null);

  useEffect(() => {
    if (!chartRef.current) return;
    const chart = echarts.init(chartRef.current, undefined, { renderer: 'svg' });

    const option = {
      animation: false,
      backgroundColor: '#ffffff',
      title: [
        {
          text: 'Phase Plot of 2MASS J19371244+4623292 (Period=0,0689848 JD)',
          left: 817,
          top: 26,
          textAlign: 'center',
          textStyle: { fontFamily: FONT, fontSize: 22.7, fontWeight: 'bold', color: '#000' },
        },
        {
          text: 'On Y axis are the datasets from Kepler Satellite (14442 Useful Observations) and R. Furgoni Observations.',
          left: 757,
          top: 871,
          textAlign: 'center',
          textStyle: { fontFamily: "'DejaVu Sans', Verdana, sans-serif", fontSize: 15, fontWeight: 'bold', color: '#000' },
        },
      ],
      legend: {
        orient: 'vertical',
        left: 1437,
        top: 260,
        padding: [0, 10, 16, 5],
        itemWidth: 6,
        itemHeight: 6,
        itemGap: 13,
        borderColor: '#000',
        borderWidth: 1,
        selectedMode: false,
        // leading blank line keeps the marker level with the first text line
        formatter: (name: string) =>
          name.indexOf('-') >= 0 ? '\n' + name.replace('-', '-\n') : '\n' + name + '\n',
        textStyle: { fontFamily: FONT, fontSize: 12, lineHeight: 15.5, color: '#000' },
        data: seriesNames,
      },
      grid: {
        left: 122,
        top: 101,
        width: 1289,
        height: 690,
        show: true,
        backgroundColor: '#c0c0c0',
        borderColor: '#808080',
        borderWidth: 1,
      },
      xAxis: {
        type: 'value',
        min: xTicks.min,
        max: xTicks.max,
        interval: xTicks.step,
        axisLine: { show: true, lineStyle: { color: '#000', width: 1 } },
        axisTick: { show: true, inside: false, length: 5, lineStyle: { color: '#000' } },
        axisLabel: {
          margin: 17,
          fontFamily: FONT,
          fontSize: 16,
          color: '#000',
          formatter: (v: number) => String(v).replace('.', ','),
        },
        splitLine: { show: false },
      },
      yAxis: {
        type: 'value',
        inverse: true,
        min: yTicks.min,
        max: yTicks.max,
        interval: yTicks.step,
        name: 'Magnitude in Kp Band',
        nameLocation: 'middle',
        nameGap: 74,
        nameTextStyle: { fontFamily: FONT, fontSize: 18, color: '#000' },
        axisLine: { show: true, lineStyle: { color: '#000', width: 1 } },
        axisTick: { show: true, inside: false, length: 6, lineStyle: { color: '#000' } },
        axisLabel: {
          margin: 15,
          fontFamily: FONT,
          fontSize: 16,
          color: '#000',
          formatter: (v: number) => v.toFixed(3).replace('.', ','),
        },
        splitLine: { show: true, lineStyle: { color: '#000', width: 1 } },
      },
      graphic: [
        {
          type: 'polyline',
          shape: { points: [[1637, 254], [1642, 254], [1642, 625], [1637, 625]] },
          style: { stroke: '#000', lineWidth: 1, fill: 'none' },
          silent: true,
        },
      ],
      series: [
        {
          name: seriesNames[0],
          type: 'scatter',
          data: toPairs(navyPts),
          symbol: 'diamond',
          symbolSize: 7,
          itemStyle: { color: '#000080' },
        },
        {
          name: seriesNames[1],
          type: 'scatter',
          data: toPairs(magentaPts),
          symbol: 'rect',
          symbolSize: 6,
          itemStyle: { color: '#ff00ff' },
        },
        {
          name: seriesNames[2],
          type: 'scatter',
          data: toPairs([...yellowPts, ...yellowCorePts]),
          symbol: 'triangle',
          symbolSize: 9,
          itemStyle: { color: '#ffff00' },
        },
        {
          name: seriesNames[3],
          type: 'scatter',
          large: false,
          data: toPairs([...orangePts, ...orangeCorePts, ...orangeDensePts]),
          symbol: 'rect',
          symbolSize: 9,
          itemStyle: { color: '#ffc000' },
        },
        {
          name: seriesNames[4],
          type: 'scatter',
          data: toPairs([...purplePts, ...purpleCorePts]),
          symbol: starSymbol,
          symbolSize: [6, 7],
          itemStyle: { color: 'transparent', borderColor: '#7a1f6b', borderWidth: 1.2 },
        },
        {
          name: seriesNames[5],
          type: 'scatter',
          data: toPairs(cyanPts),
          symbol: 'circle',
          symbolSize: 5,
          itemStyle: { color: '#00ffff' },
        },
      ],
    };

    chart.setOption(option as any);

    return () => {
      chart.dispose();
    };
  }, []);

  return (
    <div
      ref={chartRef}
      style={{ position: 'fixed', left: 0, top: 0, width: '1647px', height: '912px' }}
    />
  );
};

export default App;
